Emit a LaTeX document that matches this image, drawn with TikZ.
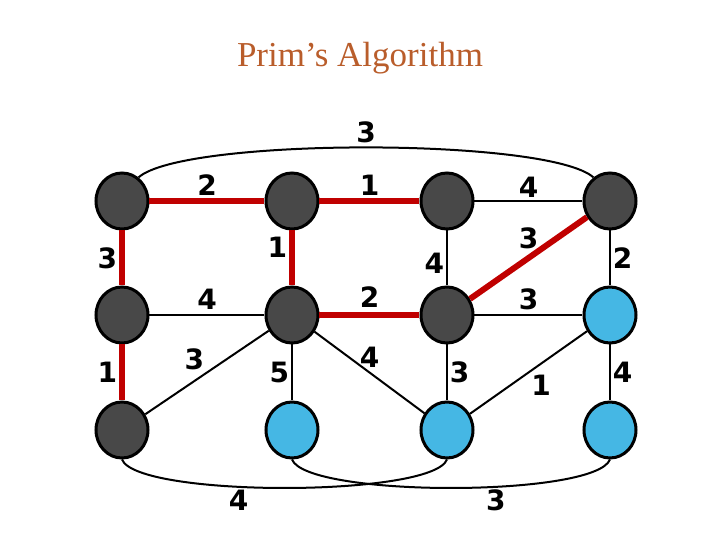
\documentclass[tikz,border=0pt]{standalone}
\usepackage{fontspec}
\setmainfont{Liberation Serif}
\newfontfamily\numfont{DejaVu Sans}
\usetikzlibrary{shapes.geometric}
\definecolor{titlebrown}{RGB}{185,93,43}
\definecolor{vgray}{RGB}{72,72,72}
\definecolor{vblue}{RGB}{69,183,228}
\definecolor{treered}{RGB}{192,0,0}

\begin{document}
\begin{tikzpicture}[x=0.5pt, y=-0.5pt,
    vertex/.style={ellipse, draw, line width=1.5pt, minimum width=26pt, minimum height=28pt, inner sep=0pt},
    intree/.style={vertex, fill=vgray},
    outtree/.style={vertex, fill=vblue},
    link/.style={line width=1pt},
    treelink/.style={line width=3pt, draw=treered},
    weight/.style={font=\numfont\bfseries\fontsize{14}{16}\selectfont, inner sep=1pt}]
                        \useasboundingbox (0,0) rectangle (720,540);

                        \node (title) at (360,67) [anchor=base, font=\fontsize{17.5}{20}\selectfont, text=titlebrown] {Prim’s Algorithm};

                        \node (v11) at (122,201) [intree] {};
                        \node (v12) at (292,201) [intree] {};
                        \node (v13) at (447,201) [intree] {};
                        \node (v14) at (610,201) [intree] {};
                        \node (v21) at (122,315) [intree] {};
                        \node (v22) at (292,315) [intree] {};
                        \node (v23) at (447,315) [intree] {};
                        \node (v24) at (610,315) [outtree] {};
                        \node (v31) at (122,430) [intree] {};
                        \node (v32) at (292,430) [outtree] {};
                        \node (v33) at (447,430) [outtree] {};
                        \node (v34) at (610,430) [outtree] {};

                        \draw[treelink] (v11) -- node[weight, above] {2} (v12);
                        \draw[treelink] (v12) -- node[weight, above] {1} (v13);
                        \draw[link] (v13) -- node[weight, above] {4} (v14);

                        \draw[treelink] (v11) -- node[weight, left] {3} (v21);
                        \draw[treelink] (v12) -- node[weight, left, pos=0.3] {1} (v22);
                        \draw[link] (v13) -- node[weight, left, pos=0.6] {4} (v23);
                        \draw[treelink] (v14) -- node[weight, above=2pt] {3} (v23);
                        \draw[link] (v14) -- node[weight, right] {2} (v24);

                        \draw[link] (v21) -- node[weight, above=1pt] {4} (v22);
                        \draw[treelink] (v22) -- node[weight, above=1pt] {2} (v23);
                        \draw[link] (v23) -- node[weight, above=1pt] {3} (v24);

                        \draw[treelink] (v21) -- node[weight, left] {1} (v31);
                        \draw[link] (v22) -- node[weight, above left] {3} (v31);
                        \draw[link] (v22) -- node[weight, left] {5} (v32);
                        \draw[link] (v22) -- node[weight, above=1pt] {4} (v33);
                        \draw[link] (v23) -- node[weight, right] {3} (v33);
                        \draw[link] (v24) -- node[weight, below right] {1} (v33);
                        \draw[link] (v24) -- node[weight, right] {4} (v34);

                        \draw[link] (v11.55) .. controls +(45,-40) and +(-45,-40) .. node[weight, above=1pt] {3} (v14.125);
                        \draw[link] (v31.south) .. controls +(15,38) and +(-15,38) .. node[weight, below, pos=0.4] {4} (v33.south);
                        \draw[link] (v32.south) .. controls +(15,38) and +(-15,38) .. node[weight, below, pos=0.6] {3} (v34.south);
                    \end{tikzpicture}
\end{document}
